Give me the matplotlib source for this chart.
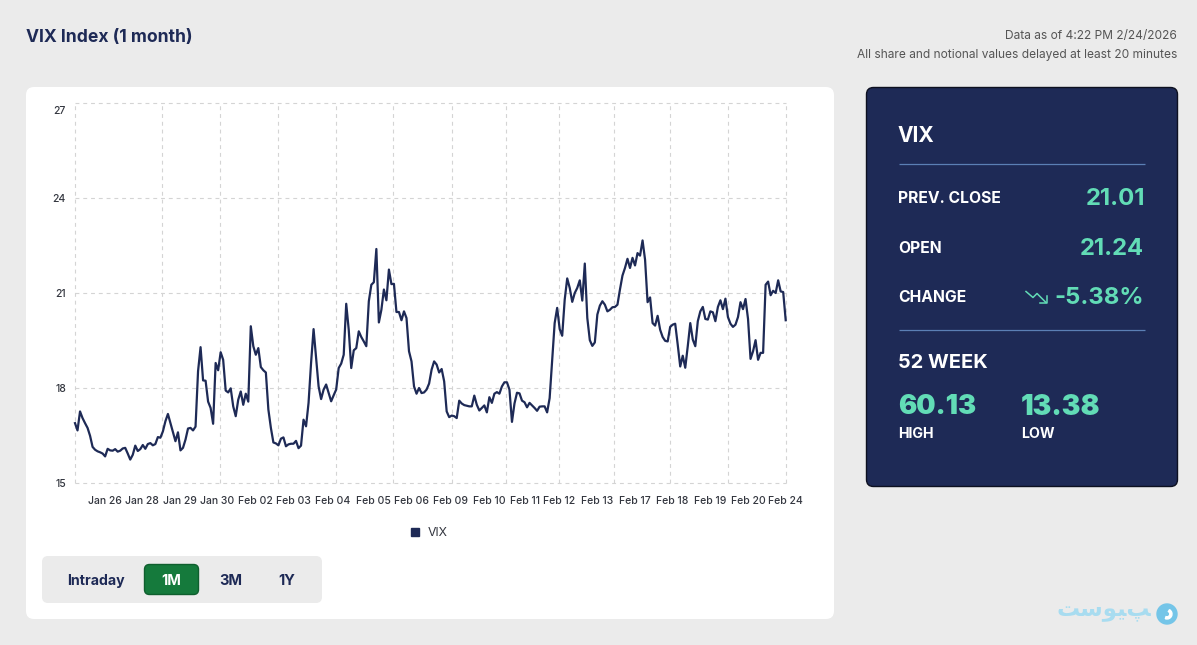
import matplotlib
matplotlib.use("Agg")
import matplotlib.pyplot as plt
from matplotlib.lines import Line2D
from matplotlib.patches import Circle, FancyBboxPatch, Wedge
from matplotlib.transforms import ScaledTranslation
import numpy as np

NAVY = "#1e2a56"
TEAL = "#62dcb6"
PAGE = "#ebebeb"

vix = [
    16.89, 16.66, 17.26, 17.05, 16.89, 16.74, 16.49, 16.14, 16.05, 16.00,
    15.97, 15.93, 15.84, 16.08, 16.03, 16.02, 16.07, 15.99, 16.02, 16.09,
    16.11, 15.93, 15.74, 15.89, 16.18, 16.01, 16.07, 16.20, 16.08, 16.23,
    16.26, 16.19, 16.23, 16.45, 16.43, 16.63, 16.95, 17.18, 16.89, 16.60,
    16.32, 16.60, 16.03, 16.11, 16.37, 16.72, 16.74, 16.66, 16.78, 18.53,
    19.29, 18.24, 18.23, 17.57, 17.37, 16.87, 18.79, 18.56, 19.13, 18.89,
    17.92, 17.86, 17.99, 17.42, 17.11, 17.63, 17.89, 17.47, 17.82, 17.57,
    19.95, 19.32, 19.05, 19.26, 18.66, 18.56, 18.49, 17.32, 16.74, 16.28,
    16.25, 16.19, 16.40, 16.44, 16.16, 16.22, 16.24, 16.24, 16.33, 16.10,
    16.18, 17.00, 16.79, 17.53, 18.79, 19.86, 18.95, 18.05, 17.65, 17.95,
    18.11, 17.84, 17.58, 17.77, 17.95, 18.63, 18.77, 19.05, 20.66, 19.84,
    18.63, 19.19, 19.26, 19.79, 19.61, 19.47, 19.32, 20.74, 21.26, 21.34,
    22.39, 20.07, 20.47, 21.11, 20.77, 21.74, 21.28, 21.29, 20.40, 20.40,
    20.14, 20.42, 20.21, 19.16, 18.84, 18.05, 17.82, 18.00, 17.84, 17.86,
    17.95, 18.14, 18.58, 18.84, 18.74, 18.49, 18.60, 18.21, 17.26, 17.08,
    17.13, 17.11, 17.05, 17.60, 17.51, 17.46, 17.44, 17.42, 17.42, 17.76,
    17.47, 17.29, 17.37, 17.45, 17.23, 17.71, 17.53, 17.82, 17.87, 17.82,
    18.05, 18.18, 18.18, 17.95, 16.93, 17.51, 17.85, 17.83, 17.60, 17.55,
    17.39, 17.53, 17.45, 17.37, 17.28, 17.41, 17.42, 17.42, 17.23, 17.68,
    18.89, 20.05, 20.53, 19.86, 19.65, 20.79, 21.46, 21.16, 20.72, 21.00,
    21.16, 21.40, 20.76, 21.93, 20.21, 19.51, 19.33, 19.44, 20.32, 20.60,
    20.74, 20.63, 20.42, 20.47, 20.55, 20.56, 20.63, 21.11, 21.55, 21.79,
    22.08, 21.79, 22.11, 21.87, 22.26, 22.18, 22.66, 22.05, 20.71, 20.86,
    20.05, 19.97, 20.28, 19.84, 19.61, 19.49, 19.47, 19.93, 20.00, 20.03,
    19.37, 18.68, 19.02, 18.64, 19.32, 20.05, 19.53, 19.32, 20.11, 20.42,
    20.56, 20.18, 20.16, 20.42, 20.39, 20.11, 20.56, 20.77, 20.49, 20.82,
    20.24, 20.03, 19.93, 20.00, 20.24, 20.71, 20.49, 20.81, 20.18, 18.92,
    19.16, 19.51, 18.89, 19.11, 19.11, 21.26, 21.36, 20.93, 21.07, 21.00,
    21.40, 21.05, 21.03, 20.14,
]

date_labels = ["Jan 26", "Jan 28", "Jan 29", "Jan 30", "Feb 02", "Feb 03", "Feb 04",
               "Feb 05", "Feb 06", "Feb 09", "Feb 10", "Feb 11", "Feb 12", "Feb 13",
               "Feb 17", "Feb 18", "Feb 19", "Feb 20", "Feb 24"]
# share of the time axis
date_pos = [0.0418, 0.0943, 0.1477, 0.2005, 0.2533, 0.3067, 0.363, 0.4193, 0.4728,
            0.529, 0.5825, 0.6325, 0.681, 0.7345, 0.788, 0.84, 0.8935, 0.947, 0.999]
grid_pos = [0, 0.0418, 0.1228, 0.2044, 0.2856, 0.3667, 0.4478, 0.53, 0.6068,
            0.6815, 0.7591, 0.8371, 0.9182, 1]
y_ticks = [15, 18, 21, 24, 27]

plt.rcParams["font.family"] = ["Inter", "DejaVu Sans"]

fig = plt.figure(figsize=(11.97, 6.45), dpi=100, facecolor=PAGE)

# page furniture in pixel coordinates
bg = fig.add_axes([0, 0, 1, 1], zorder=0)
bg.set_xlim(0, 1197)
bg.set_ylim(645, 0)
bg.axis("off")


def box(x0, y0, x1, y1, r, face, edge="none", lw=0):
    bg.add_patch(FancyBboxPatch((x0 + r, y0 + r), x1 - x0 - 2 * r, y1 - y0 - 2 * r,
                                boxstyle=f"round,pad={r},rounding_size={r}",
                                fc=face, ec=edge, lw=lw))


box(26, 87, 834, 619, 8, "white")
box(866.5, 87.5, 1177.5, 486.5, 7, NAVY, "#0d1020", 1)

bg.text(26, 38, "VIX Index (1 month)", fontsize=12.6, fontweight="bold", color=NAVY, va="center")
bg.text(1177, 36.5, "Data as of 4:22 PM 2/24/2026", fontsize=8.6, color="#555555", ha="right", va="center")
bg.text(1177, 55, "All share and notional values delayed at least 20 minutes", fontsize=8.6,
        color="#555555", ha="right", va="center")

# side panel
bg.text(898, 136, "VIX", fontsize=15, fontweight="bold", color="white", va="center")
bg.plot([899, 1145], [164, 164], color="#5b7fb5", lw=0.9, solid_capstyle="butt")
bg.plot([899, 1145], [330, 330], color="#5b7fb5", lw=0.9, solid_capstyle="butt")
for label, yy in [("PREV. CLOSE", 198.5), ("OPEN", 248.5), ("CHANGE", 297.5)]:
    bg.text(898, yy, label, fontsize=11.3, fontweight="bold", color="white", va="center")
bg.text(1145, 199, "21.01", fontsize=17.2, fontweight="bold", color=TEAL, ha="right", va="center")
bg.text(1144, 249, "21.24", fontsize=17.2, fontweight="bold", color=TEAL, ha="right", va="center")
bg.text(1144, 298, "-5.38%", fontsize=17.2, fontweight="bold", color=TEAL, ha="right", va="center")
bg.plot([1026, 1033, 1037, 1046], [291.5, 297.5, 293.5, 302.5], color=TEAL, lw=1.1)
bg.plot([1040, 1046.5, 1046.5], [302.5, 302.5, 296], color=TEAL, lw=1.1)
bg.text(898, 363, "52 WEEK", fontsize=14.4, fontweight="bold", color="white", va="center")
bg.text(898, 407.5, "60.13", fontsize=19.6, fontweight="black", color=TEAL, va="center")
bg.text(1021, 407.5, "13.38", fontsize=20.2, fontweight="black", color=TEAL, va="center")
bg.text(898, 434, "HIGH", fontsize=10.2, fontweight="bold", color="white", va="center")
bg.text(1021, 434, "LOW", fontsize=10.2, fontweight="bold", color="white", va="center")

# range buttons
box(42, 556, 322, 603, 6, PAGE)
box(144.5, 564.5, 198.5, 594.5, 5, "#157a3c", "#0f5f2e", 1)
bg.text(95.5, 581, "Intraday", fontsize=10.2, fontweight="bold", color=NAVY, ha="center", va="center")
bg.text(171.5, 581, "1M", fontsize=10.5, fontweight="bold", color="white", ha="center", va="center")
bg.text(230.5, 581, "3M", fontsize=10.5, fontweight="bold", color=NAVY, ha="center", va="center")
bg.text(287, 581, "1Y", fontsize=10.5, fontweight="bold", color=NAVY, ha="center", va="center")

# watermark
bg.add_patch(Circle((1167, 614), 10, color="#74c5e8"))
bg.add_patch(Wedge((1167, 614), 5, 300, 110, width=2.2, color="white"))
bg.text(1104, 611, "\ufe96\ufeb3\ufeee\ufbff\ufb57", fontsize=16.5, fontweight="bold", color="#a8dcf0",
        ha="center", va="center", family="DejaVu Sans")

# the chart
ax = fig.add_axes([75 / 1197, 1 - 483 / 645, 710.7 / 1197, 380 / 645], zorder=1)
ax.patch.set_alpha(0)
x = np.linspace(0, 1, len(vix))
ax.plot(x, vix, color=NAVY, lw=1.6, label="VIX", clip_on=False)
ax.set_xlim(0, 1)
ax.set_ylim(15, 27)
ax.set_yticks(y_ticks)
ax.set_xticks(date_pos)
ax.set_xticklabels(date_labels)
ax.set_xticks(grid_pos, minor=True)
ax.tick_params(axis="both", which="both", length=0)
ax.tick_params(axis="x", labelsize=7.5, pad=9.5, labelcolor="#33363f")
ax.tick_params(axis="y", labelsize=7.5, pad=6.5, labelcolor="#33363f")
ax.grid(False)
ax.grid(True, axis="x", which="minor", color="#d4d4d4", lw=0.8, ls=(0, (3.5, 3.5)), clip_on=False)
ax.grid(True, axis="y", which="major", color="#d4d4d4", lw=0.8, ls=(0, (3.5, 3.5)), clip_on=False)
ax.set_axisbelow(True)
for spine in ax.spines.values():
    spine.set_visible(False)
for lab in ax.get_xticklabels() + ax.get_yticklabels():
    lab.set_fontweight("medium")

# top label sits below its gridline in the reference
top_label = ax.get_yticklabels()[-1]
top_label.set_transform(top_label.get_transform() + ScaledTranslation(0, -7 / 72 * 72 / 100, fig.dpi_scale_trans))

handle = Line2D([], [], color=NAVY, marker="s", ls="none", ms=5.5)
ax.legend([handle], ["VIX"], loc="center", bbox_to_anchor=(425 / 1197, 1 - 533 / 645),
          bbox_transform=fig.transFigure, frameon=False, fontsize=8.8, labelcolor="#33363f",
          handletextpad=0.0)

fig.savefig("out.png", dpi=100, facecolor=PAGE)
